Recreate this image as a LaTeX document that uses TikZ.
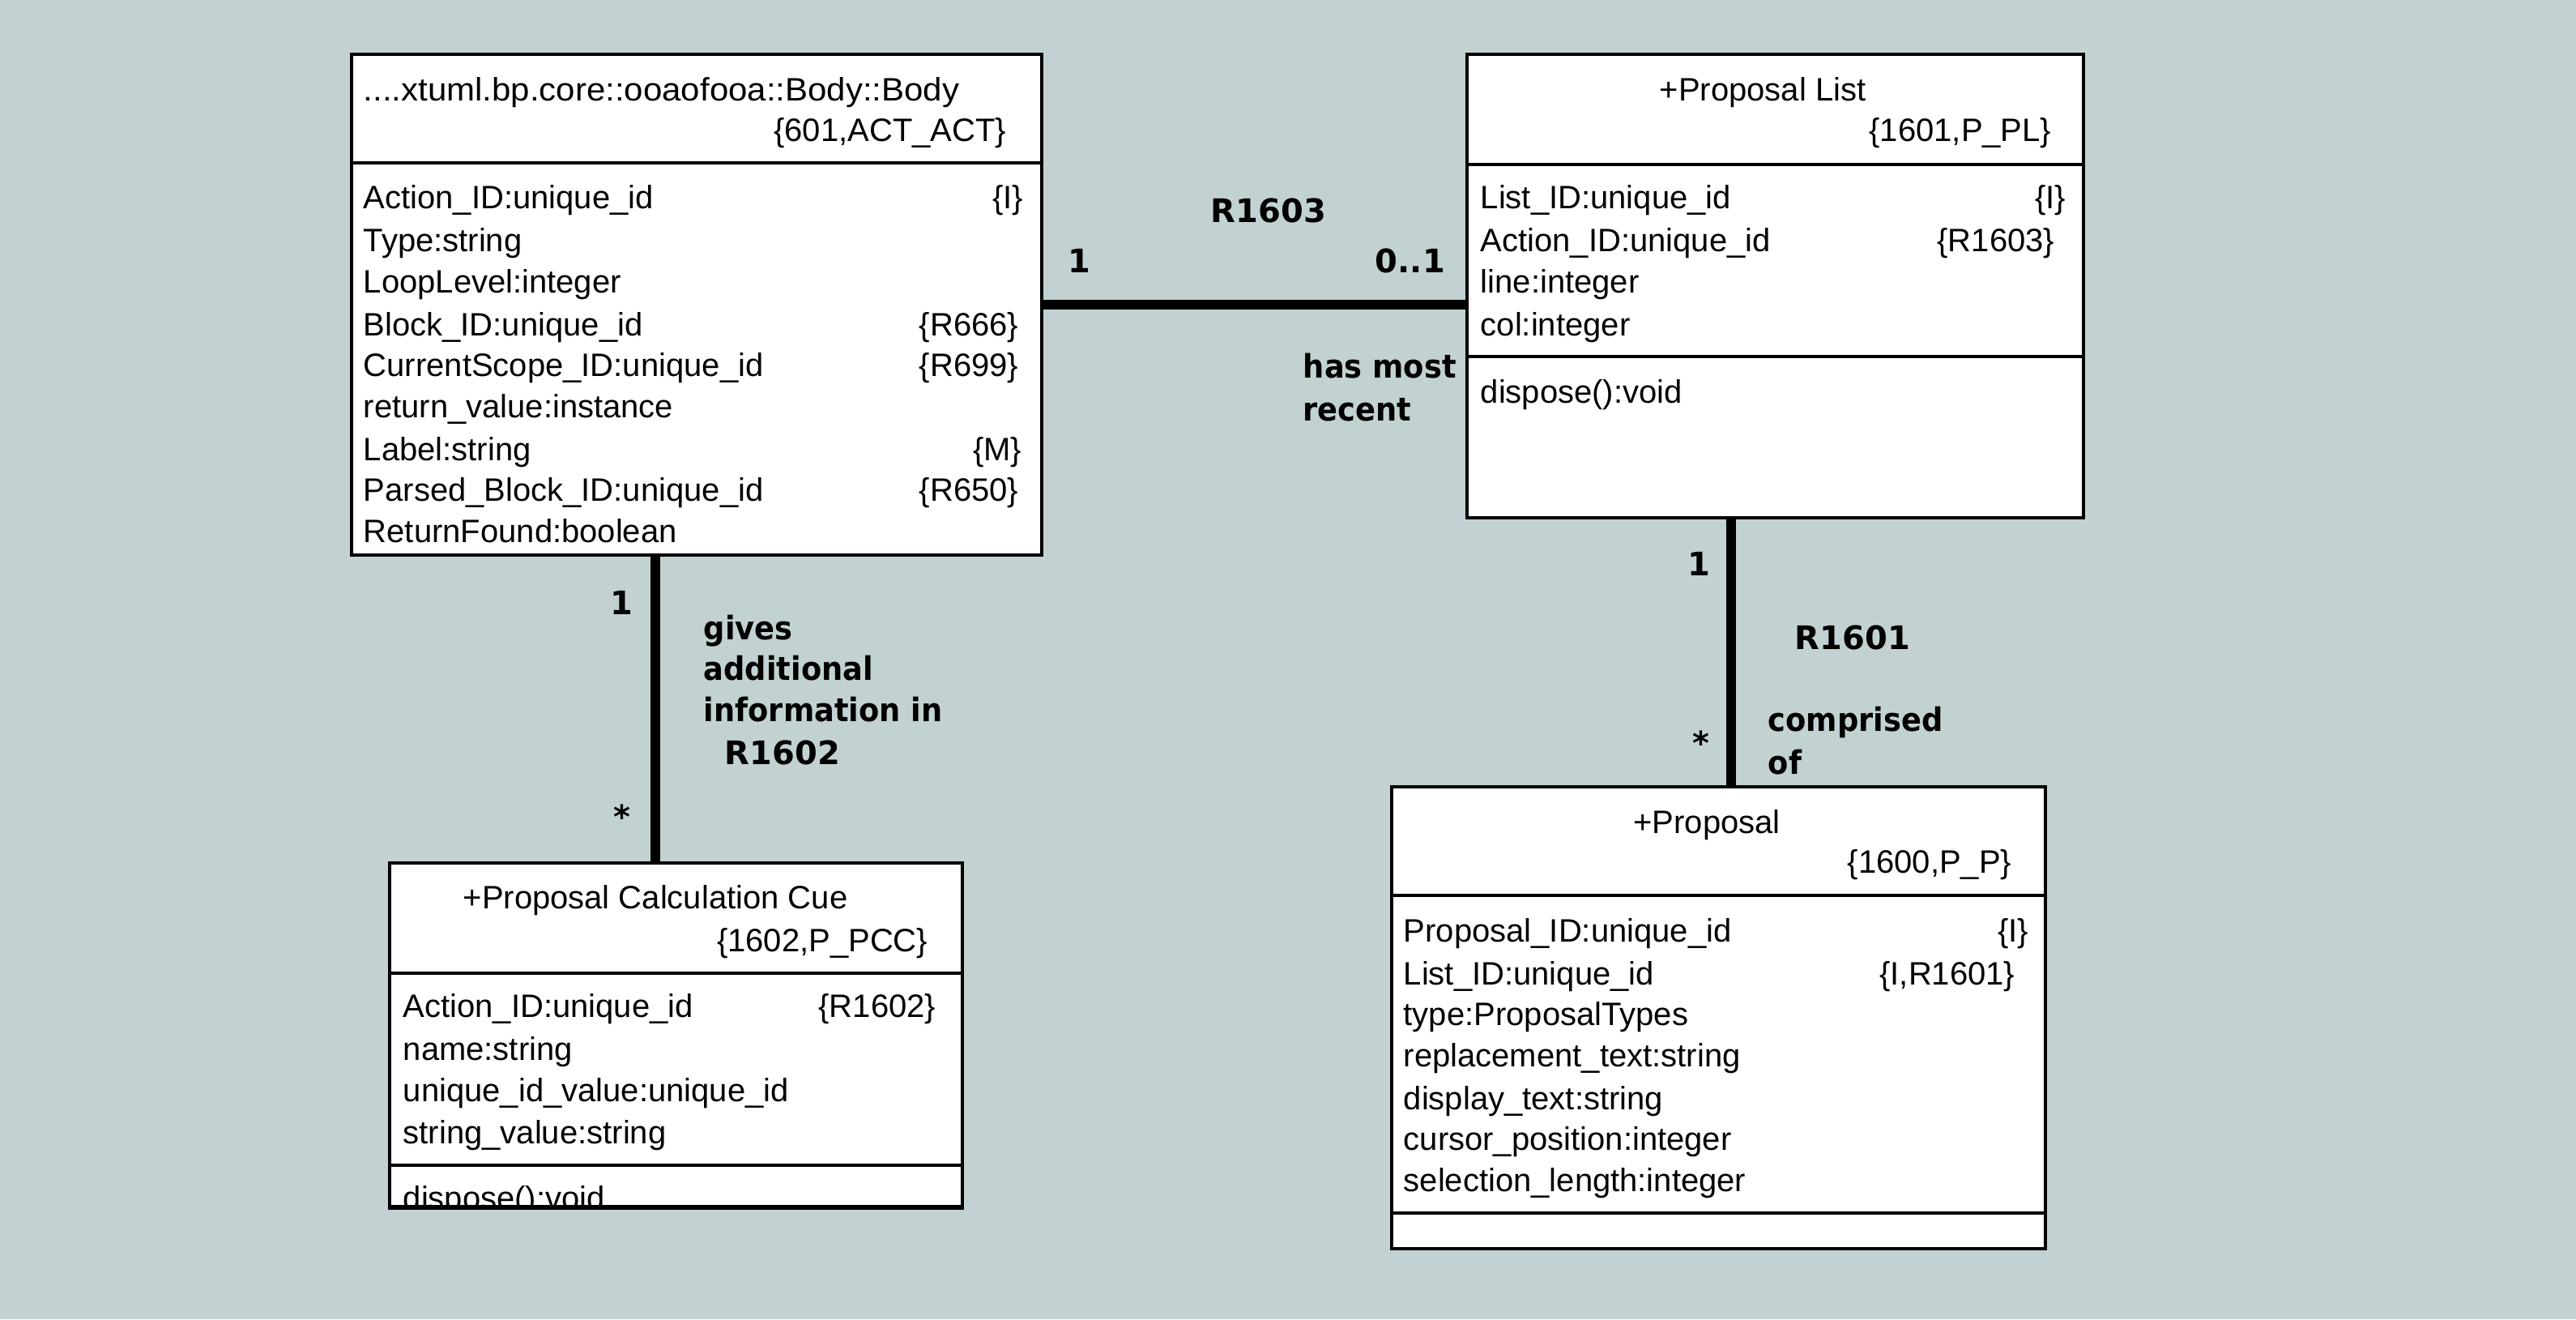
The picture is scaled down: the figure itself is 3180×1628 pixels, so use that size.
\documentclass[tikz,border=0pt]{standalone}
\usepackage{fontspec}
\setmainfont{Liberation Sans}
\newfontfamily\lblfont{DejaVu Sans}
\newfontfamily\lblwfont[FakeStretch=0.92]{DejaVu Sans}
\newfontfamily\titlefont[FakeStretch=1.05]{Liberation Sans}
\definecolor{bgc}{RGB}{194,210,211}
\begin{document}
\begin{tikzpicture}[x=0.25pt,y=-0.25pt,
  box/.style={draw=black, fill=white, line width=1.1pt, inner sep=0pt},
  divl/.style={line width=1.1pt},
  txt/.style={anchor=base west, inner sep=0pt, font=\fontsize{10}{12}\selectfont},
  rtxt/.style={anchor=base east, inner sep=0pt, font=\fontsize{10}{12}\selectfont},
  ctxt/.style={anchor=base, inner sep=0pt, font=\fontsize{10}{12}\selectfont},
  lbl/.style={anchor=base west, inner sep=0pt, font=\lblfont\bfseries\fontsize{10}{12}\selectfont},
  wlbl/.style={anchor=base west, inner sep=0pt, font=\lblwfont\bfseries\fontsize{10}{12}\selectfont},
  conn/.style={line width=3pt}]
\useasboundingbox[fill=bgc] (0,0) rectangle (3180,1628);

% boxes
\node[box, minimum width={852*0.25pt}, minimum height={618*0.25pt}] (body) at (860,376) {};
\node[box, minimum width={761*0.25pt}, minimum height={572*0.25pt}] (plist) at (2191.5,353) {};
\node[box, minimum width={707*0.25pt}, minimum height={424*0.25pt}] (pcc) at (834.5,1277) {};
\node[box, minimum width={807*0.25pt}, minimum height={570*0.25pt}] (prop) at (2121.5,1256) {};

% dividers
\draw[divl] (body.west |- 0,201) -- (body.east |- 0,201);
\draw[divl] (plist.west |- 0,203) -- (plist.east |- 0,203);
\draw[divl] (plist.west |- 0,440) -- (plist.east |- 0,440);
\draw[divl] (pcc.west |- 0,1201) -- (pcc.east |- 0,1201);
\draw[divl] (pcc.west |- 0,1438) -- (pcc.east |- 0,1438);
\draw[divl] (prop.west |- 0,1105) -- (prop.east |- 0,1105);
\draw[divl] (prop.west |- 0,1497) -- (prop.east |- 0,1497);

% Body box text
\node[txt, font=\titlefont\fontsize{10}{12}\selectfont] (b0) at (448,124) {....xtuml.bp.core::ooaofooa::Body::Body};
\node[rtxt] (b0r) at (1243,174) {\{601,ACT\_ACT\}};
\node[txt] (b1) at (448,257) {Action\_ID:unique\_id};
\node[rtxt] (b1r) at (1264,257) {\{I\}};
\node[txt] (b2) at (448,310) {Type:string};
\node[txt] (b3) at (448,361) {LoopLevel:integer};
\node[txt] (b4) at (448,414) {Block\_ID:unique\_id};
\node[rtxt] (b4r) at (1258,414) {\{R666\}};
\node[txt] (b5) at (448,464) {CurrentScope\_ID:unique\_id};
\node[rtxt] (b5r) at (1258,464) {\{R699\}};
\node[txt] (b6) at (448,515) {return\_value:instance};
\node[txt] (b7) at (448,568) {Label:string};
\node[rtxt] (b7r) at (1262,568) {\{M\}};
\node[txt] (b8) at (448,618) {Parsed\_Block\_ID:unique\_id};
\node[rtxt] (b8r) at (1258,618) {\{R650\}};
\node[txt] (b9) at (448,669) {ReturnFound:boolean};

% Proposal List text
\node[ctxt] (p0) at (2176,124) {+Proposal List};
\node[rtxt] (p0r) at (2533,174) {\{1601,P\_PL\}};
\node[txt] (p1) at (1827,257) {List\_ID:unique\_id};
\node[rtxt] (p1r) at (2551,257) {\{I\}};
\node[txt] (p2) at (1827,310) {Action\_ID:unique\_id};
\node[rtxt] (p2r) at (2537,310) {\{R1603\}};
\node[txt] (p3) at (1827,361) {line:integer};
\node[txt] (p4) at (1827,414) {col:integer};
\node[txt] (p5) at (1827,497) {dispose():void};

% Proposal Calculation Cue text
\node[ctxt] (c0) at (809,1121) {+Proposal Calculation Cue};
\node[rtxt] (c0r) at (1146,1174) {\{1602,P\_PCC\}};
\node[txt] (c1) at (497,1255) {Action\_ID:unique\_id};
\node[rtxt] (c1r) at (1156,1255) {\{R1602\}};
\node[txt] (c2) at (497,1308) {name:string};
\node[txt] (c3) at (497,1359) {unique\_id\_value:unique\_id};
\node[txt] (c4) at (497,1411) {string\_value:string};
\begin{scope}
\clip (pcc.south west) rectangle (pcc.north east);
\node[txt] (c5) at (497,1492) {dispose():void};
\end{scope}
\draw[divl] (pcc.south west) -- (pcc.south east);

% Proposal text
\node[ctxt] (r0) at (2107,1028) {+Proposal};
\node[rtxt] (r0r) at (2484,1077) {\{1600,P\_P\}};
\node[txt] (r1) at (1732,1162) {Proposal\_ID:unique\_id};
\node[rtxt] (r1r) at (2505,1162) {\{I\}};
\node[txt] (r2) at (1732,1215) {List\_ID:unique\_id};
\node[rtxt] (r2r) at (2488,1215) {\{I,R1601\}};
\node[txt] (r3) at (1732,1265) {type:ProposalTypes};
\node[txt] (r4) at (1732,1316) {replacement\_text:string};
\node[txt] (r5) at (1732,1369) {display\_text:string};
\node[txt] (r6) at (1732,1419) {cursor\_position:integer};
\node[txt] (r7) at (1732,1470) {selection\_length:integer};

% connectors
\draw[conn] (body.east |- 0,376) -- (plist.west |- 0,376);
\draw[conn] (body.south -| 809,0) -- (pcc.north -| 809,0);
\draw[conn] (plist.south -| 2137,0) -- (prop.north -| 2137,0);

% R1603 labels
\node[lbl] (l1603) at (1494,274) {R1603};
\node[lbl] (m1a) at (1318,336) {1};
\node[lbl] (m1b) at (1697,336) {0..1};
\node[wlbl] (hm1) at (1608,466) {has most};
\node[wlbl] (hm2) at (1608,519) {recent};

% R1602 labels
\node[lbl] (m2a) at (753,758) {1};
\node[lbl] (m2b) at (757,1022) {*};
\node[wlbl] (g1) at (868,789) {gives};
\node[wlbl] (g2) at (868,839) {additional};
\node[wlbl] (g3) at (868,890) {information in};
\node[lbl] (g4) at (894,943) {R1602};

% R1601 labels
\node[lbl] (m3a) at (2083,710) {1};
\node[lbl] (m3b) at (2089,931) {*};
\node[lbl] (l1601) at (2215,801) {R1601};
\node[wlbl] (co1) at (2182,902) {comprised};
\node[wlbl] (co2) at (2182,955) {of};
\end{tikzpicture}
\end{document}
